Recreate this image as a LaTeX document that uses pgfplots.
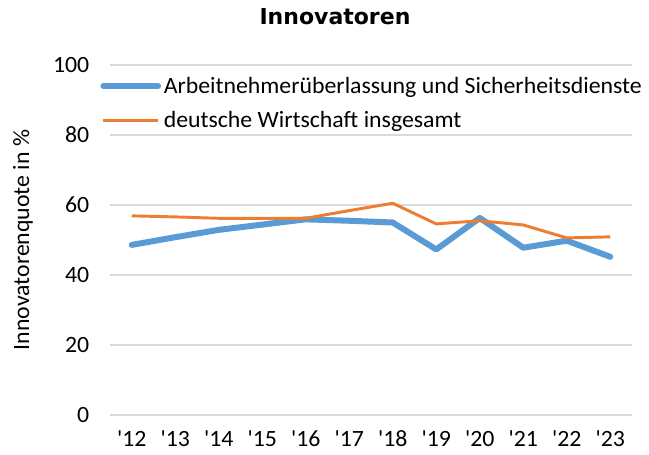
\documentclass[border=0pt]{standalone}
\usepackage{fontspec}
\setmainfont{Carlito}[FakeStretch=1.02]
\newfontfamily\titlefont{DejaVu Sans}
\usepackage{pgfplots}
\pgfplotsset{compat=1.18}
\definecolor{cblue}{HTML}{5B9BD5}
\definecolor{corange}{HTML}{ED7D31}
\definecolor{cgrid}{HTML}{D9D9D9}
\begin{document}
\begin{tikzpicture}
\useasboundingbox (0,0) rectangle (486.75pt,340.5pt);
\begin{axis}[
  at={(82.5pt,29.25pt)}, anchor=south west,
  scale only axis, width=391.5pt, height=262.5pt,
  xmin=-0.5, xmax=11.5, ymin=0, ymax=100,
  axis line style={draw=none},
  tick style={draw=none},
  ytick={0,20,40,60,80,100},
  ymajorgrids, grid style={cgrid, line width=1.3pt},
  xtick={0,...,11},
  xticklabels={\textquotesingle12,\textquotesingle13,\textquotesingle14,\textquotesingle15,\textquotesingle16,\textquotesingle17,\textquotesingle18,\textquotesingle19,\textquotesingle20,\textquotesingle21,\textquotesingle22,\textquotesingle23},
  /pgf/number format/assume math mode=true,
  tick label style={font=\fontsize{17.5pt}{21pt}\selectfont},
  yticklabel style={xshift=-12pt},
  xticklabel style={yshift=-8pt},
  ylabel={Innovatorenquote in \%},
  ylabel style={font=\fontsize{17.5pt}{21pt}\selectfont, at={(axis description cs:-0.1667,0.5)}, anchor=center},
  title={\textbf{Innovatoren}},
  title style={font=\titlefont\fontsize{16.5pt}{20pt}\selectfont, at={(axis description cs:0.431,1)}, anchor=center, yshift=30pt},
  legend style={at={(-0.0265,0.982)}, anchor=north west, draw=none, fill=none,
    font=\fontsize{17.5pt}{21pt}\selectfont, row sep=8pt,
    /tikz/every even column/.append style={column sep=0pt}},
  legend cell align=left,
  legend image code/.code={\draw[#1] (0pt,0pt) -- (41pt,0pt);},
]
\addplot[cblue, line width=4.5pt, line join=round, line cap=round] coordinates {
(0,48.6) (1,50.8) (2,52.9) (3,54.4) (4,55.9) (5,55.5) (6,55.0) (7,47.3) (8,56.3) (9,47.8) (10,49.8) (11,45.2)};
\addlegendentry{Arbeitnehmerüberlassung und Sicherheitsdienste}
\addplot[corange, line width=2.2pt, line join=round] coordinates {
(0,56.9) (1,56.6) (2,56.2) (3,56.2) (4,56.2) (5,58.4) (6,60.5) (7,54.6) (8,55.5) (9,54.3) (10,50.6) (11,50.9)};
\addlegendentry{deutsche Wirtschaft insgesamt}
\end{axis}
\end{tikzpicture}
\end{document}
